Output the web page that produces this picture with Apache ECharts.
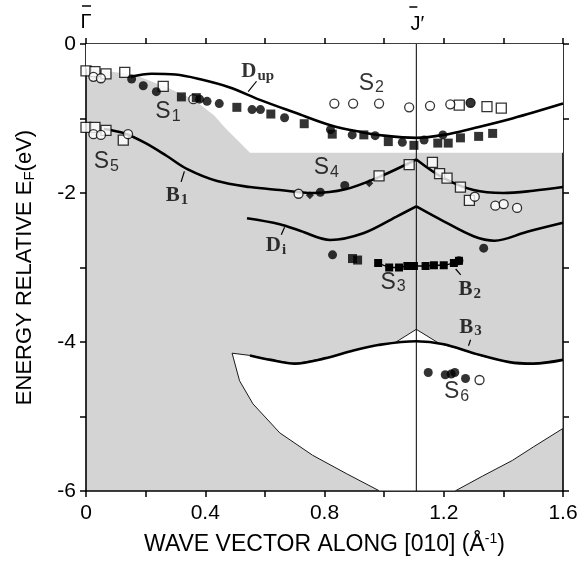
<!DOCTYPE html>
<html>
<head>
<meta charset="utf-8">
<title>Surface bands along [010]</title>
<script src="https://cdn.jsdelivr.net/npm/echarts@6.0.0/dist/echarts.min.js"></script>
<style>
  html, body { margin: 0; padding: 0; background: #fff; }
  #chart { width: 585px; height: 562px; }
</style>
</head>
<body>
<div id="chart"></div>
<script>
// J' zone boundary position (1/A)
const jPrime = 1.108

// edges of the projected bulk bands (white = gap)
const upperGap = [[0, 0], [0, -0.33], [0.16, -0.41], [0.27, -0.58], [0.36, -0.74], [0.43, -0.96],
  [0.47, -1.14], [0.51, -1.3], [0.55, -1.46], [1.6, -1.46], [1.6, 0]]
const lowerGap = [[0.49, -4.15], [0.55, -4.18], [0.62, -4.24], [0.70, -4.29], [0.80, -4.22], [0.90, -4.11],
  [0.98, -4.04], [1.036, -4.01], [jPrime, -3.83], [1.185, -4.02], [1.25, -4.09], [1.33, -4.19],
  [1.42, -4.27], [1.5, -4.29], [1.6, -4.24], [1.6, -5.16], [1.5, -5.41], [1.43, -5.59], [1.33, -5.8],
  [1.238, -6], [0.985, -6], [0.875, -5.77], [0.76, -5.52], [0.65, -5.22], [0.56, -4.83], [0.515, -4.52]]

// calculated bands
const dUp = [[0.15, -0.44], [0.22, -0.40], [0.30, -0.41], [0.38, -0.47], [0.48, -0.58], [0.59, -0.76],
  [0.70, -0.92], [0.82, -1.09], [0.92, -1.18], [1.0, -1.23], [jPrime, -1.26], [1.2, -1.22],
  [1.3, -1.13], [1.43, -1.0], [1.6, -0.80]]
const b1Left = [[0.06, -1.14], [0.13, -1.2], [0.2, -1.33], [0.27, -1.5], [0.34, -1.68], [0.44, -1.84],
  [0.55, -1.92], [0.65, -1.96], [0.76, -2.0], [0.87, -1.95], [0.98, -1.79], [jPrime, -1.55]]
const b1Right = [[jPrime, -1.55], [1.2, -1.8], [1.3, -1.96], [1.4, -2.0], [1.5, -1.97], [1.6, -1.92]]
const diLeft = [[0.54, -2.34], [0.65, -2.42], [0.72, -2.51], [0.82, -2.63], [0.93, -2.54], [1.04, -2.32], [jPrime, -2.18]]
const diRight = [[jPrime, -2.18], [1.2, -2.38], [1.3, -2.58], [1.37, -2.64], [1.48, -2.52], [1.6, -2.40]]
const b3 = [[0.55, -4.18], [0.62, -4.24], [0.70, -4.29], [0.80, -4.22], [0.90, -4.11], [0.98, -4.04],
  [jPrime, -3.99], [1.2, -4.03], [1.3, -4.15], [1.42, -4.27], [1.5, -4.29], [1.6, -4.24]]

// measured points
const filledCircles = [[0.153, -0.47], [0.192, -0.56], [0.236, -0.64], [0.381, -0.74], [0.406, -0.77],
  [0.447, -0.80], [0.557, -0.88], [0.585, -0.88], [0.666, -0.99], [0.82, -1.15], [0.893, -1.22],
  [0.97, -1.23], [1.061, -1.32], [1.134, -1.29], [1.197, -1.22], [1.29, -0.79], [0.786, -1.99],
  [0.868, -1.90], [0.827, -2.83], [1.334, -2.74], [1.251, -2.91], [1.148, -4.41], [1.205, -4.44],
  [1.225, -4.43], [1.237, -4.41], [1.273, -4.49]]
const filledSquares = [[0.32, -0.71], [0.37, -0.72], [0.506, -0.85], [0.62, -0.94], [0.732, -1.07],
  [0.826, -1.21], [0.932, -1.22], [1.014, -1.31], [1.10, -1.36], [1.18, -1.33], [1.215, -1.33],
  [1.256, -1.26], [1.317, -1.24], [1.364, -1.20], [0.894, -2.88], [0.911, -2.90]]
const s3Points = [[0.98, -2.94], [1.017, -3.0], [1.05, -3.0], [1.078, -2.98], [1.10, -2.98], [1.139, -2.98],
  [1.167, -2.97], [1.2, -2.97], [1.234, -2.94], [1.251, -2.91]]
const openCircles = [[0.025, -0.44], [0.05, -0.46], [0.36, -0.74], [0.833, -0.80], [0.896, -0.80],
  [0.983, -0.80], [1.084, -0.85], [1.154, -0.83], [1.222, -0.81], [1.29, -0.79], [0.025, -1.21],
  [0.05, -1.22], [0.141, -1.21], [0.713, -2.01], [1.304, -2.05], [1.373, -2.17], [1.401, -2.15],
  [1.446, -2.20], [1.32, -4.51]]
const openSquares = [[0, -0.36], [0.03, -0.37], [0.067, -0.40], [0.13, -0.38], [0.259, -0.57],
  [1.252, -0.82], [1.345, -0.84], [1.393, -0.86], [0, -1.12], [0.03, -1.12], [0.067, -1.16],
  [0.125, -1.29], [0.983, -1.77], [1.084, -1.62], [1.162, -1.59], [1.186, -1.74], [1.211, -1.80],
  [1.256, -1.92], [1.286, -2.10]]
const diamonds = [[0.751, -2.03], [0.95, -1.87]]

// state labels: [k, E, main, index, serif]
const stateLabels = [
  [0.275, -0.91, 'S', '1', false],
  [0.957, -0.53, 'S', '2', false],
  [1.03, -3.2, 'S', '3', false],
  [0.806, -1.66, 'S', '4', false],
  [0.068, -1.58, 'S', '5', false],
  [1.243, -4.67, 'S', '6', false],
  [0.576, -0.37, 'D', 'up', true],
  [0.305, -2.03, 'B', '1', true],
  [0.637, -2.71, 'D', 'i', true],
  [1.287, -3.30, 'B', '2', true],
  [1.29, -3.80, 'B', '3', true]
]
// short leader strokes from label to curve
const leaders = [[0.572, -0.50, 0.544, -0.64], [0.33, -1.71, 0.319, -1.85], [0.666, -2.46, 0.655, -2.56],
  [1.24, -3.02, 1.257, -3.10], [1.29, -3.97, 1.283, -4.05]]

const xLabel = v => {
  const t = Math.round(v * 10)
  if (t % 4 !== 0) return ''
  return t === 0 ? '0' : (t / 10).toFixed(1)
}
const yLabel = v => {
  const t = Math.round(v)
  return t % 2 === 0 ? String(t) : ''
}

const chart = echarts.init(document.getElementById('chart'))

function gap(points, style) {
  return {
    type: 'custom',
    coordinateSystem: 'cartesian2d',
    silent: true,
    z: 1,
    data: [points[0]],
    renderItem: (params, api) => ({
      type: 'polygon',
      shape: { points: points.map(p => api.coord(p)) },
      style: style
    })
  }
}

function curve(data, width) {
  return {
    type: 'line',
    data: data,
    smooth: 0.35,
    showSymbol: false,
    symbol: 'none',
    silent: true,
    z: 3,
    lineStyle: { color: '#000', width: width }
  }
}

function marks(data, symbol, size, filled) {
  return {
    type: 'scatter',
    data: data,
    symbol: symbol,
    symbolSize: size,
    silent: true,
    z: filled ? 5 : 4,
    itemStyle: filled
      ? { color: '#000' }
      : { color: '#fff', borderColor: '#000', borderWidth: 1.3 }
  }
}

const axisLine = { show: true, onZero: false, lineStyle: { color: '#000', width: 1.6 } }
const axisTick = { show: true, inside: false, length: 6, lineStyle: { color: '#000', width: 1.5 } }
const sans = 'Liberation Sans, Arial, sans-serif'
const serif = 'Liberation Serif, Times New Roman, serif'

const option = {
  animation: false,
  backgroundColor: '#fff',
  grid: { left: 86, top: 44, width: 477, height: 447, show: true, backgroundColor: '#d4d4d4', borderWidth: 0 },
  xAxis: [
    {
      type: 'value', min: 0, max: 1.6, interval: 0.2, position: 'bottom',
      axisLine, axisTick, splitLine: { show: false },
      axisLabel: { formatter: xLabel, color: '#000', fontSize: 21, margin: 12, fontFamily: sans },
      name: '{a|WAVE VECTOR ALONG [010] (Å}{sup|-1}{a|)}',
      nameLocation: 'middle',
      nameGap: 41,
      nameTextStyle: {
        rich: {
          a: { fontSize: 23, color: '#000', fontFamily: sans },
          sup: { fontSize: 14, color: '#000', fontFamily: sans, padding: [0, 0, 11, 0] }
        }
      }
    },
    {
      type: 'value', min: 0, max: 1.6, interval: 0.2, position: 'top',
      axisLine, axisTick, splitLine: { show: false }, axisLabel: { show: false }
    }
  ],
  yAxis: [
    {
      type: 'value', min: -6, max: 0, interval: 1, position: 'left',
      axisLine, axisTick, splitLine: { show: false },
      axisLabel: { formatter: yLabel, color: '#000', fontSize: 21, margin: 10, fontFamily: sans },
      name: '{a|ENERGY RELATIVE E}{sub|F}{a|(eV)}',
      nameLocation: 'middle',
      nameRotate: 90,
      nameGap: 49,
      nameTextStyle: {
        rich: {
          a: { fontSize: 22, color: '#000', fontFamily: sans },
          sub: { fontSize: 15, color: '#000', fontFamily: sans, padding: [10, 0, 0, 0] }
        }
      }
    },
    {
      type: 'value', min: -6, max: 0, interval: 1, position: 'right',
      axisLine, axisTick, splitLine: { show: false }, axisLabel: { show: false }
    }
  ],
  series: [
    gap(upperGap, { fill: '#fff' }),
    gap(lowerGap, { fill: '#fff', stroke: '#1a1a1a', lineWidth: 1 }),
    {
      type: 'line', data: [[jPrime, 0], [jPrime, -6]], symbol: 'none', silent: true, z: 2,
      lineStyle: { color: '#000', width: 1 }
    },
    curve(dUp, 2.6),
    curve(b1Left, 2.6),
    curve(b1Right, 2.6),
    curve(diLeft, 2.6),
    curve(diRight, 2.6),
    curve(b3, 2.6),
    {
      type: 'line', data: s3Points, symbol: 'rect', symbolSize: 8, showSymbol: true, silent: true, z: 5,
      lineStyle: { color: '#000', width: 1.3 }, itemStyle: { color: '#000' }
    },
    marks(openSquares, 'rect', 10, false),
    marks(openCircles, 'circle', 9, false),
    marks(filledSquares, 'rect', 9, true),
    marks(filledCircles, 'circle', 9, true),
    marks(diamonds, 'diamond', 8, true),
    {
      type: 'custom',
      coordinateSystem: 'cartesian2d',
      silent: true,
      z: 6,
      encode: { x: [0, 2], y: [1, 3] },
      data: leaders,
      renderItem: (params, api) => {
        const a = api.coord([api.value(0), api.value(1)])
        const b = api.coord([api.value(2), api.value(3)])
        return {
          type: 'line',
          shape: { x1: a[0], y1: a[1], x2: b[0], y2: b[1] },
          style: { stroke: '#000', lineWidth: 1.2 }
        }
      }
    },
    {
      type: 'scatter',
      silent: true,
      z: 7,
      symbolSize: 1,
      itemStyle: { color: 'rgba(0,0,0,0)' },
      data: stateLabels.map(l => ({ value: [l[0], l[1]], main: l[2], idx: l[3], serif: l[4] })),
      label: {
        show: true,
        position: 'inside',
        formatter: p => p.data.serif ? `{d|${p.data.main}}{ds|${p.data.idx}}` : `{s|${p.data.main}}{ss|${p.data.idx}}`,
        rich: {
          s: { fontSize: 23, color: '#000', fontFamily: sans },
          ss: { fontSize: 16, color: '#000', fontFamily: sans, padding: [9, 0, 0, 1] },
          d: { fontSize: 21, color: '#000', fontFamily: serif, fontWeight: 'bold' },
          ds: { fontSize: 15, color: '#000', fontFamily: serif, fontWeight: 'bold', padding: [9, 0, 0, 1] }
        }
      }
    }
  ]
}

chart.setOption(option)

// symmetry point labels above the frame
const g = chart.convertToPixel({ xAxisIndex: 0, yAxisIndex: 0 }, [0, 0])
const j = chart.convertToPixel({ xAxisIndex: 0, yAxisIndex: 0 }, [jPrime, 0])
chart.setOption({
  graphic: [
    { type: 'text', x: g[0], y: g[1] - 22, style: { text: 'Γ', font: '20px ' + sans, fill: '#000', align: 'center', verticalAlign: 'middle' } },
    { type: 'line', shape: { x1: g[0] - 4, y1: g[1] - 38, x2: g[0] + 5, y2: g[1] - 38 }, style: { stroke: '#000', lineWidth: 1.5 } },
    { type: 'text', x: j[0] + 1, y: j[1] - 20, style: { text: 'J′', font: '20px ' + sans, fill: '#000', align: 'center', verticalAlign: 'middle' } },
    { type: 'line', shape: { x1: j[0] - 7, y1: j[1] - 37, x2: j[0] + 1, y2: j[1] - 37 }, style: { stroke: '#000', lineWidth: 1.5 } }
  ]
})

window.addEventListener('resize', () => chart.resize())
</script>
</body>
</html>
